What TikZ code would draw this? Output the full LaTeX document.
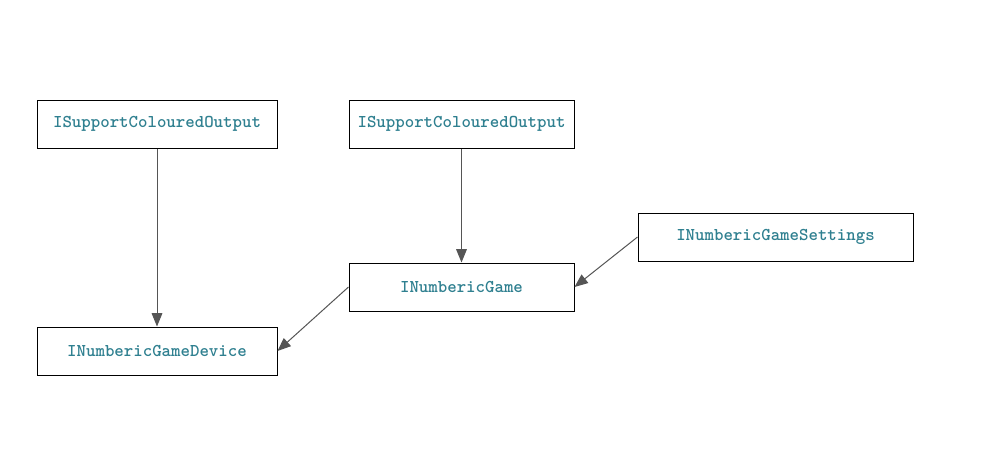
\documentclass[tikz,border=0pt]{standalone}
\usepackage{fontspec}
\usetikzlibrary{arrows.meta}
\definecolor{ifacetext}{HTML}{2F8090}
\definecolor{linkgray}{HTML}{555555}
\begin{document}
\begin{tikzpicture}[x=0.75pt,y=-0.75pt,
  iface/.style={draw=black, line width=0.75pt, fill=white, inner sep=0pt,
    text=ifacetext, font=\ttfamily\bfseries\fontsize{13.5pt}{16pt}\selectfont},
  link/.style={draw=linkgray, line width=0.75pt,
    -{Triangle[length=10pt,width=8pt]}}]
  \useasboundingbox[fill=white] (0,0) rectangle (989,462);
  % interface boxes (corner to corner)
  \node[iface, minimum width=240*0.75pt, minimum height=48*0.75pt] (outA) at (157,124) {ISupportColouredOutput};
  \node[iface, minimum width=225*0.75pt, minimum height=48*0.75pt] (outB) at (461.5,124) {ISupportColouredOutput};
  \node[iface, minimum width=275*0.75pt, minimum height=48*0.75pt] (settings) at (775.5,237) {INumbericGameSettings};
  \node[iface, minimum width=225*0.75pt, minimum height=48*0.75pt] (game) at (461.5,287) {INumbericGame};
  \node[iface, minimum width=240*0.75pt, minimum height=48*0.75pt] (device) at (157,351) {INumbericGameDevice};
  % inheritance links
  \draw[link] (outA.south) -- (device.north);
  \draw[link] (outB.south) -- (game.north);
  \draw[link] (settings.west) -- (game.east);
  \draw[link] (game.west) -- (device.east);
\end{tikzpicture}
\end{document}
